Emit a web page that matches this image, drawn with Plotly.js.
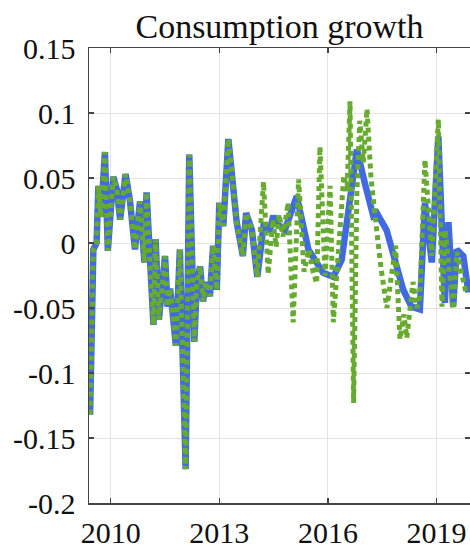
<!DOCTYPE html>
<html>
<head>
<meta charset="utf-8">
<script src="https://cdn.plot.ly/plotly-3.0.1.min.js"></script>
<style>html,body{margin:0;padding:0;background:#fff;}#chart{width:470px;height:549px;}</style>
</head>
<body>
<div id="chart"></div>
<script>
// Blue solid series (decimal year, value)
const blueYears = [2009.43,2009.52,2009.61,2009.66,2009.73,2009.84,2009.92,2010.07,2010.17,2010.26,2010.41,2010.53,2010.67,2010.81,2010.93,2010.99,2011.18,2011.24,2011.33,2011.50,2011.57,2011.64,2011.70,2011.80,2011.91,2012.07,2012.17,2012.23,2012.31,2012.38,2012.47,2012.55,2012.63,2012.74,2012.83,2012.93,2013.00,2013.11,2013.25,2013.48,2013.65,2013.74,2013.90,2014.05,2014.22,2014.40,2014.49,2014.54,2014.81,2015.14,2015.46,2015.87,2016.15,2016.38,2016.61,2016.80,2017.02,2017.25,2017.35,2017.62,2017.85,2018.08,2018.31,2018.54,2018.68,2018.87,2019.05,2019.14,2019.23,2019.33,2019.46,2019.56,2019.74,2019.88];
const blueValues = [-0.132,-0.005,0.000,0.044,0.020,0.070,-0.006,0.051,0.041,0.018,0.053,0.033,-0.005,0.032,-0.015,0.039,-0.063,0.003,-0.059,-0.010,-0.049,-0.035,-0.051,-0.079,-0.005,-0.174,0.068,0.010,-0.076,-0.030,-0.018,-0.045,-0.030,-0.041,-0.002,-0.036,0.031,0.013,0.080,0.016,-0.010,0.023,0.010,-0.026,0.013,0.010,0.021,0.016,0.010,0.036,-0.005,-0.023,-0.026,-0.013,0.036,0.072,0.046,0.021,0.023,0.010,-0.013,-0.036,-0.049,-0.051,0.031,-0.015,0.082,0.016,-0.046,0.016,-0.049,-0.005,-0.010,-0.038];

// Green dotted series (decimal year, value)
const greenYears = [2009.43,2009.52,2009.61,2009.66,2009.73,2009.84,2009.92,2010.07,2010.17,2010.26,2010.41,2010.53,2010.67,2010.81,2010.93,2010.99,2011.18,2011.24,2011.33,2011.50,2011.57,2011.64,2011.70,2011.80,2011.91,2012.07,2012.17,2012.23,2012.31,2012.38,2012.47,2012.55,2012.63,2012.74,2012.83,2012.93,2013.00,2013.11,2013.25,2013.48,2013.65,2013.74,2013.90,2014.05,2014.22,2014.35,2014.48,2014.57,2014.65,2014.76,2014.90,2015.04,2015.19,2015.34,2015.48,2015.59,2015.69,2015.78,2015.92,2016.06,2016.15,2016.28,2016.44,2016.53,2016.61,2016.71,2016.80,2016.88,2016.98,2017.08,2017.19,2017.35,2017.47,2017.63,2017.74,2017.87,2017.99,2018.10,2018.18,2018.35,2018.46,2018.54,2018.68,2018.87,2019.05,2019.15,2019.24,2019.46,2019.56,2019.83];
const greenValues = [-0.132,-0.005,0.000,0.044,0.020,0.070,-0.006,0.051,0.041,0.018,0.053,0.033,-0.005,0.032,-0.015,0.039,-0.063,0.003,-0.059,-0.010,-0.049,-0.035,-0.051,-0.079,-0.005,-0.174,0.068,0.010,-0.076,-0.030,-0.018,-0.045,-0.030,-0.041,-0.002,-0.036,0.031,0.013,0.080,0.016,-0.010,0.023,0.010,-0.026,0.047,-0.024,0.018,-0.003,0.022,0.005,0.031,-0.061,0.049,-0.022,-0.005,-0.022,-0.031,0.074,-0.025,0.044,-0.061,-0.010,0.052,0.040,0.109,-0.123,0.040,0.094,0.062,0.103,0.050,0.009,-0.020,-0.050,-0.025,-0.002,-0.074,-0.055,-0.073,-0.030,-0.050,-0.041,0.064,-0.010,0.095,-0.049,0.010,-0.051,-0.007,-0.040];

const titleText = "Consumption growth";
const xTickVals = [2010, 2013, 2016, 2019];
const xTickText = ["2010", "2013", "2016", "2019"];
const yTickVals = [0.15, 0.1, 0.05, 0, -0.05, -0.1, -0.15, -0.2];
const yTickText = ["0.15", "0.1", "0.05", "0", "-0.05", "-0.1", "-0.15", "-0.2"];

const serif = "Liberation Serif, Times New Roman, serif";
const frame = "#444444";

const traces = [
  {x: blueYears, y: blueValues, type: "scatter", mode: "lines",
   line: {color: "#4169e1", width: 6.5}, hoverinfo: "skip"},
  {x: greenYears, y: greenValues, type: "scatter", mode: "lines",
   line: {color: "#66ab30", width: 5, dash: "5px,4px"}, hoverinfo: "skip"}
];

const axisCommon = {
  showline: true, linecolor: frame, linewidth: 1.5, mirror: "ticks",
  ticks: "inside", ticklen: 5, tickwidth: 1.2, tickcolor: frame,
  showgrid: true, gridcolor: "#e3e3e3", gridwidth: 1, zeroline: false,
  tickfont: {family: serif, size: 30, color: "#111"}
};

const layout = {
  width: 470, height: 549,
  margin: {l: 89, r: 0, t: 48, b: 46},
  paper_bgcolor: "#fff", plot_bgcolor: "#fff",
  showlegend: false,
  title: {text: titleText, font: {family: serif, size: 34, color: "#111"},
          x: 0.5, xref: "paper", y: 0.953, yref: "container", yanchor: "middle"},
  xaxis: Object.assign({}, axisCommon, {range: [2009.40, 2019.925],
          tickmode: "array", tickvals: xTickVals, ticktext: xTickText, ticklabelstandoff: 2}),
  yaxis: Object.assign({}, axisCommon, {range: [-0.2, 0.15],
          tickmode: "array", tickvals: yTickVals, ticktext: yTickText, ticklabelstandoff: 6})
};

Plotly.newPlot("chart", traces, layout, {displayModeBar: false, staticPlot: true});
</script>
</body>
</html>
